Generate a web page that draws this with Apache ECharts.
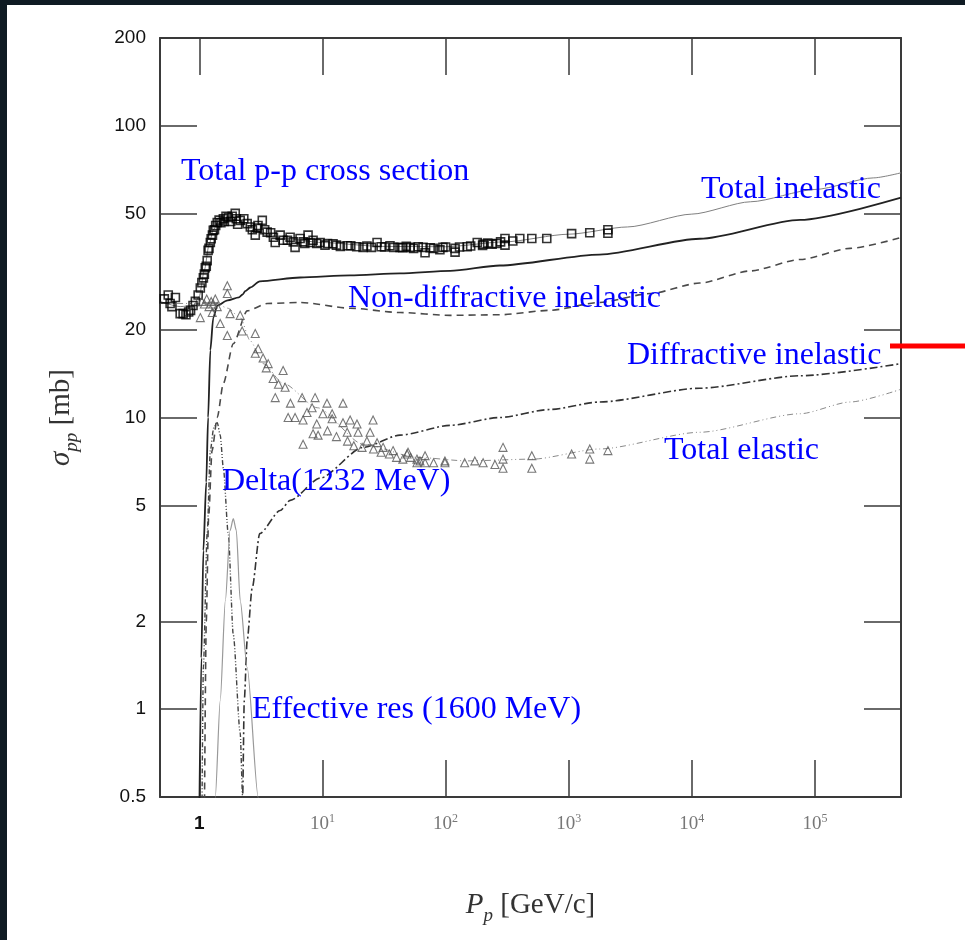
<!DOCTYPE html>
<html>
<head>
<meta charset="utf-8">
<script src="https://cdn.jsdelivr.net/npm/echarts@6/dist/echarts.min.js"></script>
<style>
  html, body { margin: 0; padding: 0; background: #0f1b23; }
  #chart { position: absolute; left: 7px; top: 5px; width: 958px; height: 935px; background: #fff; }
</style>
</head>
<body>
<div id="chart"></div>
<script>
// tick labels
const xTicks = [1, 10, 100, 1000, 10000, 100000];
const yTicks = [0.5, 1, 2, 5, 10, 20, 50, 100, 200];

// [P (GeV/c), sigma (mb)]
const totalCurve = [[0.48, 25], [0.7, 24], [0.9, 24.2], [1.0, 26], [1.1, 32], [1.2, 39], [1.3, 44], [1.45, 47.5], [1.7, 48.2], [2.0, 47.6], [2.5, 45.5], [3.2, 43.2], [5, 41], [10, 39.8], [30, 38.6], [100, 38.5], [300, 40], [1000, 42.5], [3000, 45], [10000, 49.8], [30000, 54.9], [100000, 60.5], [300000, 66.3], [500000, 69]];
const inelasticCurve = [[1.0, 0.4], [1.04, 1.5], [1.08, 3.5], [1.14, 6], [1.18, 10], [1.23, 17], [1.3, 22], [1.4, 24.2], [1.7, 25.2], [2.1, 25.8], [2.25, 26.4], [2.36, 27.1], [2.6, 27.9], [3.1, 29.3], [6.6, 30.2], [16.8, 30.7], [42.7, 31.2], [109, 31.8], [276, 33.2], [1780, 36.2], [11600, 41.0], [75800, 47.6], [500000, 56.7]];
const nonDiffCurve = [[1.1, 0.4], [1.14, 2], [1.19, 4.5], [1.27, 7.7], [1.4, 10], [1.57, 13.1], [1.89, 17.9], [2.45, 23.2], [3.56, 24.6], [6.6, 24.8], [16.8, 23.7], [42.7, 22.9], [109, 22.4], [276, 22.5], [700, 23.3], [1780, 24.8], [4580, 26.6], [11600, 28.9], [29800, 31.8], [75800, 34.8], [193000, 38.0], [500000, 41.4]];
const diffCurve = [[2.2, 0.4], [2.25, 0.5], [2.32, 1.07], [2.45, 1.72], [2.69, 2.6], [3.1, 4.0], [4.54, 4.8], [5.48, 5.2], [9.6, 6.2], [21.4, 7.9], [42.7, 8.7], [109, 9.4], [276, 10.0], [700, 10.65], [1780, 11.3], [11600, 12.6], [75800, 13.9], [500000, 15.3]];
const elasticCurve = [[0.48, 24.6], [1.0, 24.6], [1.4, 24.5], [1.7, 23.7], [2.15, 22], [2.6, 18.3], [3.3, 15.3], [4.8, 13.1], [9.1, 10.8], [21.4, 8.1], [58.6, 7.3], [149, 7.1], [510, 7.2], [1780, 7.8], [11600, 8.9], [75800, 10.3], [193000, 11.3], [500000, 12.5]];
const deltaCurve = [[1.05, 0.4], [1.08, 1.4], [1.16, 4.0], [1.23, 7.7], [1.31, 9.2], [1.4, 9.6], [1.48, 8.7], [1.57, 6.7], [1.72, 4.0], [1.89, 1.8], [2.15, 0.83], [2.25, 0.5], [2.3, 0.4]];
const res1600Curve = [[1.33, 0.4], [1.35, 0.5], [1.48, 1.07], [1.63, 2.36], [1.78, 4.1], [1.89, 4.5], [2.0, 4.1], [2.15, 2.36], [2.45, 1.39], [3.01, 0.5], [3.08, 0.4]];

const totalData = [[0.52, 25.5], [0.56, 26.3], [0.58, 24.6], [0.6, 24], [0.64, 25.8], [0.7, 22.7], [0.74, 22.7], [0.78, 22.5], [0.82, 23], [0.85, 23.3], [0.89, 24.2], [0.93, 25], [0.98, 26.3], [1.02, 27.8], [1.05, 29], [1.08, 30.1], [1.1, 31], [1.12, 32.6], [1.14, 33], [1.16, 34.5], [1.18, 37.4], [1.2, 38], [1.23, 39.8], [1.25, 41], [1.28, 42.2], [1.3, 43.8], [1.33, 44], [1.36, 45.5], [1.4, 46.6], [1.45, 47.5], [1.5, 46.5], [1.57, 48.0], [1.6, 47], [1.65, 49], [1.72, 48.5], [1.8, 47], [1.85, 49], [1.96, 50.1], [2.0, 48], [2.05, 46], [2.15, 47.4], [2.3, 48], [2.45, 46.2], [2.6, 45], [2.7, 44], [2.85, 42.2], [2.96, 44.6], [3.0, 45.5], [3.25, 47.4], [3.4, 44], [3.56, 43.2], [3.8, 43], [4.0, 41.5], [4.14, 39.8], [4.54, 42.2], [4.8, 40.5], [5.2, 40.5], [5.47, 41.5], [5.8, 40], [6.0, 38.3], [6.59, 41.1], [7, 40], [7.2, 39.5], [7.65, 42.2], [8, 39.8], [8.4, 40.5], [9, 39.5], [9.58, 39.8], [10.5, 39], [11, 39.5], [12.2, 39.4], [13, 39], [14, 38.6], [15.9, 38.8], [17, 38.8], [19, 38.5], [21.4, 38.3], [23, 38.7], [25, 38.3], [27.8, 39.8], [30, 38.5], [32, 38.4], [35.4, 38.8], [38, 38.3], [42.7, 38.3], [45, 38.2], [48, 38.6], [51.5, 38.3], [55, 38], [60, 38.5], [65.7, 38.3], [68.2, 36.7], [75, 38.2], [80, 38], [90, 37.6], [95.3, 38.3], [100, 38.4], [119.5, 38.0], [119.5, 36.9], [130, 38.4], [150, 38.5], [160, 38.7], [181, 39.8], [200, 38.9], [202, 39.3], [220, 39.6], [239, 39.3], [260, 39.5], [280, 40], [304, 41.1], [304, 39.0], [352, 40.3], [401, 41.1], [502, 41.1], [664, 41.1], [1057, 42.7], [1484, 43.0], [2083, 44.0], [2083, 42.8]];
const elasticData = [[1.02, 22.0], [1.05, 25], [1.1, 24.5], [1.15, 25.5], [1.2, 24], [1.25, 25], [1.275, 22.9], [1.3, 24.5], [1.35, 25.5], [1.4, 24], [1.48, 21.0], [1.69, 28.3], [1.69, 26.6], [1.69, 19.1], [1.78, 22.7], [2.15, 22.4], [2.23, 19.8], [2.85, 19.4], [3.01, 17.2], [2.85, 16.6], [3.3, 16], [3.5, 14.8], [3.63, 15.3], [3.98, 13.6], [4.14, 11.7], [4.4, 13], [4.8, 14.5], [4.98, 12.7], [5.27, 10.0], [5.5, 11.2], [6.0, 10.0], [6.84, 11.7], [6.97, 9.8], [6.97, 8.1], [7.5, 10.4], [8.25, 10.8], [8.4, 8.8], [8.72, 11.7], [9, 9.5], [9.23, 8.7], [10.1, 10.3], [10.9, 11.2], [11, 9], [12.0, 10.3], [12.0, 9.9], [13, 8.6], [14.7, 11.2], [14.7, 9.6], [15.9, 8.9], [16, 8.3], [16.8, 9.8], [18, 8], [19.1, 9.5], [19.5, 8.9], [21, 7.9], [23.0, 8.3], [24.4, 8.9], [25.8, 9.8], [26, 7.8], [27.8, 8.2], [30, 7.6], [31.1, 7.9], [35, 7.5], [37.5, 7.7], [40, 7.3], [45, 7.2], [48.7, 7.5], [49.6, 7.6], [52, 7.3], [58.6, 7.2], [58.6, 7.0], [62, 7.1], [68.2, 7.4], [68.2, 7.0], [80, 7.0], [98.9, 7.1], [98.9, 7.0], [143, 7.0], [173, 7.1], [202, 7.0], [252, 6.9], [293, 7.9], [293, 7.2], [293, 6.7], [502, 7.4], [502, 6.7], [1057, 7.5], [1484, 7.8], [1484, 7.2], [2083, 7.7]];

const notes = [
  { text: "Total p-p cross section", x: 174, y: 170 },
  { text: "Total inelastic", x: 694, y: 188 },
  { text: "Non-diffractive inelastic", x: 341, y: 297 },
  { text: "Diffractive inelastic", x: 620, y: 354 },
  { text: "Total elastic", x: 657, y: 449 },
  { text: "Delta(1232 MeV)", x: 215, y: 480 },
  { text: "Effective res (1600 MeV)", x: 245, y: 708 },
];

const frame = "#3a3a3a";
const serif = "'Liberation Serif', 'DejaVu Serif', serif";
const sans = "'Liberation Sans', Arial, sans-serif";

const tickStyle = { show: true, inside: true, length: 37, lineStyle: { color: frame, width: 1.5 } };
const lineStyleAxis = { show: true, lineStyle: { color: frame, width: 2 } };
const nameStyle = {
  fontFamily: serif,
  fontSize: 29,
  color: "#333",
  rich: {
    i: { fontFamily: serif, fontStyle: "italic", fontSize: 29, color: "#333" },
    sub: { fontFamily: serif, fontStyle: "italic", fontSize: 19, color: "#333", verticalAlign: "bottom", padding: [0, 0, -5, 0] },
  },
};

const chart = echarts.init(document.getElementById("chart"));

const curve = (name, data, color, width, type) => ({
  name,
  type: "line",
  data,
  showSymbol: false,
  smooth: 0.25,
  smoothMonotone: "x",
  clip: true,
  lineStyle: { color, width, type },
  z: 2,
});

chart.setOption({
  animation: false,
  backgroundColor: "#fff",
  grid: { left: 153, top: 33, width: 741, height: 759 },
  xAxis: [
    {
      type: "log",
      min: 0.48,
      max: 500000,
      position: "bottom",
      axisLine: lineStyleAxis,
      axisTick: Object.assign({}, tickStyle, { customValues: xTicks }),
      splitLine: { show: false },
      axisLabel: {
        customValues: xTicks,
        margin: 16,
        formatter: (v) => {
          const e = Math.round(Math.log10(v));
          return e === 0 ? "{one|1}" : "{b|10}{sup|" + e + "}";
        },
        rich: {
          one: { fontFamily: sans, fontSize: 19, fontWeight: "bold", color: "#111", lineHeight: 22 },
          b: { fontFamily: serif, fontSize: 19, color: "#777", lineHeight: 22 },
          sup: { fontFamily: serif, fontSize: 12, color: "#777", verticalAlign: "top", lineHeight: 22 },
        },
      },
      name: "{i|P}{sub|p} [GeV/c]",
      nameLocation: "middle",
      nameGap: 94,
      nameTextStyle: nameStyle,
    },
    {
      type: "log",
      min: 0.48,
      max: 500000,
      position: "top",
      axisLine: lineStyleAxis,
      axisTick: Object.assign({}, tickStyle, { customValues: xTicks }),
      axisLabel: { show: false },
      splitLine: { show: false },
    },
  ],
  yAxis: [
    {
      type: "log",
      min: 0.5,
      max: 200,
      position: "left",
      axisLine: lineStyleAxis,
      axisTick: Object.assign({}, tickStyle, { customValues: yTicks }),
      splitLine: { show: false },
      axisLabel: {
        customValues: yTicks,
        margin: 14,
        fontFamily: sans,
        fontSize: 19,
        color: "#111",
        formatter: (v) => String(v),
      },
      name: "{i|σ}{sub|pp} [mb]",
      nameLocation: "middle",
      nameGap: 84,
      nameRotate: 90,
      nameTextStyle: nameStyle,
    },
    {
      type: "log",
      min: 0.5,
      max: 200,
      position: "right",
      axisLine: lineStyleAxis,
      axisTick: Object.assign({}, tickStyle, { customValues: yTicks }),
      axisLabel: { show: false },
      splitLine: { show: false },
    },
  ],
  series: [
    curve("Total", totalCurve, "#808080", 1, "solid"),
    curve("Total inelastic", inelasticCurve, "#222", 1.8, "solid"),
    curve("Non-diffractive inelastic", nonDiffCurve, "#4a4a4a", 1.6, [7, 5]),
    curve("Diffractive inelastic", diffCurve, "#333", 1.6, [8, 3, 2, 3]),
    curve("Total elastic", elasticCurve, "#8a8a8a", 1, [6, 3, 1, 3, 1, 3]),
    curve("Delta(1232 MeV)", deltaCurve, "#444", 1.4, [5, 2, 1, 2, 1, 2]),
    curve("Effective res (1600 MeV)", res1600Curve, "#999", 1.2, "solid"),
    {
      name: "total data",
      type: "scatter",
      data: totalData,
      symbol: "rect",
      symbolSize: 8,
      itemStyle: { color: "rgba(255,255,255,0)", borderColor: "#000", borderWidth: 1.6 },
      z: 3,
    },
    {
      name: "elastic data",
      type: "scatter",
      data: elasticData,
      symbol: "triangle",
      symbolSize: 8,
      itemStyle: { color: "rgba(255,255,255,0)", borderColor: "#555", borderWidth: 1.1 },
      z: 3,
    },
  ],
  graphic: notes
    .map((n) => ({
      type: "text",
      left: n.x,
      top: n.y - 19,
      z: 10,
      style: { text: n.text, fontFamily: serif, fontSize: 32, fill: "#0000ff" },
    }))
    .concat([
      {
        type: "line",
        z: 10,
        shape: { x1: 883, y1: 341, x2: 958, y2: 341 },
        style: { stroke: "#ff0000", lineWidth: 5 },
      },
    ]),
});
</script>
</body>
</html>
